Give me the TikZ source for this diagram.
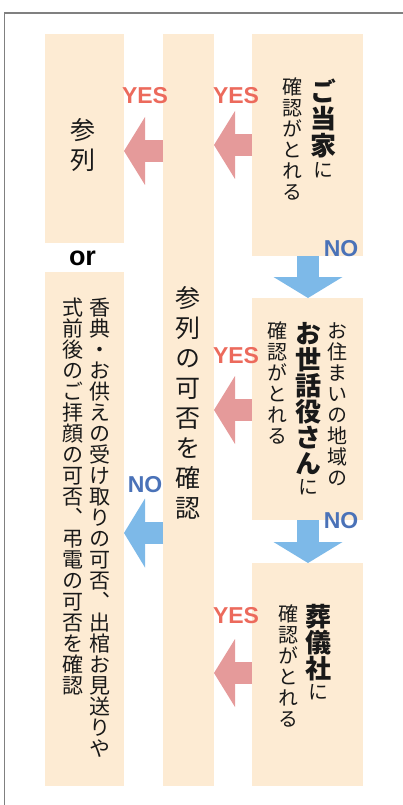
\documentclass[tikz,border=0pt]{standalone}
\usepackage{fontspec}
\setmainfont{Liberation Sans}
\newfontfamily\jp[RawFeature=+vert]{Noto Sans CJK JP}
\usetikzlibrary{positioning, arrows.meta}
\definecolor{boxfill}{HTML}{FDEBD3}
\definecolor{yesfill}{HTML}{E59A9A}
\definecolor{yestext}{HTML}{EC6A5C}
\definecolor{nofill}{HTML}{7DB9E8}
\definecolor{notext}{HTML}{4A72B8}
\tikzset{panel/.style={fill=boxfill, draw=none, inner sep=0, outer sep=0, minimum width=111, minimum height=222}}
\tikzset{yesarr/.style={draw=yesfill, line width=22pt, -{Triangle[width=68pt, length=21pt, line width=0pt]}}}
\tikzset{noarr/.style={draw=nofill, line width=22pt, -{Triangle[width=69pt, length=21pt, line width=0pt]}}}
\tikzset{yeslbl/.style={text=yestext, font=\bfseries\fontsize{23}{23}\selectfont, inner sep=0, outer sep=0}}
\tikzset{nolbl/.style={text=notext, font=\bfseries\fontsize{23}{23}\selectfont, inner sep=0, outer sep=0}}
\tikzset{tatecol/.style={inner sep=0, outer sep=0, anchor=north, text=black!90}}
% vertical text: one character per cell
\newlength\tatestep
\def\tateend{TATEEND}
\newcommand\tate[2]{\setlength\tatestep{#1}\tateloop#2\tateend}
\def\tateloop#1{\ifx#1\tateend\else
  \hbox to 0pt{\hss\vbox to\tatestep{\vss\hbox{\vrule height .88em depth .12em width 0pt#1}\vss}\hss}%
  \expandafter\tateloop\fi}
\newcommand\jpbold{\jp\bfseries\fontsize{26}{26}\selectfont}
\newcommand\jpmid{\jp\mdseries\fontsize{25}{25}\selectfont}
\newcommand\jpsmall{\jp\mdseries\fontsize{20}{20}\selectfont}
\newcommand\jpnote{\jp\mdseries\fontsize{21}{21}\selectfont}

\begin{document}
\begin{tikzpicture}[x=1pt, y=-1pt]
	\useasboundingbox (0,0) rectangle (403,805);
	\draw[gray, line width=1.5pt] (4.7,805) |- (403,12.8);
	%
	\node[panel, minimum width=79, minimum height=209, anchor=north west] (P) at (45,34) {};
	\node[panel, minimum width=79, minimum height=514, below=29pt of P] (Q) {};
	\node[panel, minimum width=51, minimum height=752, anchor=north west] (K) at (163,34) {};
	\node[panel, anchor=north west] (A) at (252,34) {};
	\node[panel, below=42pt of A] (B) {};
	\node[panel, minimum height=223, below=43pt of B] (C) {};
	\node[font=\bfseries\fontsize{27}{27}\selectfont, inner sep=0, below=8pt of P, xshift=-2pt] (or) {or};
	%
	\node[tatecol, anchor=center] (P1) at (83,145) {\vbox{\offinterlineskip\jpmid\tate{30pt}{参列}}};
	\node[tatecol] (K1) at (188,283) {\vbox{\offinterlineskip\jpmid\tate{30pt}{参列の可否を確認}}};
	\node[tatecol] (A1) at (323,78) {\vbox{\offinterlineskip\jpbold\tate{27pt}{ご当家}\jpsmall\tate{21pt}{に}}};
	\node[tatecol] (A2) at (292,76.5) {\vbox{\offinterlineskip\jpsmall\tate{21pt}{確認がとれる}}};
	\node[tatecol] (B1) at (337,320.5) {\vbox{\offinterlineskip\jpsmall\tate{21pt}{お住まいの地域の}}};
	\node[tatecol] (B2) at (308,320.5) {\vbox{\offinterlineskip\jpbold\tate{26pt}{お世話役さん}\jpsmall\tate{21pt}{に}}};
	\node[tatecol] (B3) at (277,320.5) {\vbox{\offinterlineskip\jpsmall\tate{21pt}{確認がとれる}}};
	\node[tatecol] (C1) at (318,603.5) {\vbox{\offinterlineskip\jpbold\tate{26pt}{葬儀社}\jpsmall\tate{21pt}{に}}};
	\node[tatecol] (C2) at (288,603.5) {\vbox{\offinterlineskip\jpsmall\tate{21pt}{確認がとれる}}};
	\node[tatecol] (Q1) at (100,297) {\vbox{\offinterlineskip\jpnote\tate{21pt}{香典・お供えの受け取りの可否、出棺お見送りや}}};
	\node[tatecol] (Q2) at (73,297) {\vbox{\offinterlineskip\jpnote\tate{21pt}{式前後のご拝顔の可否、弔電の可否を確認}}};
	%
	\draw[yesarr] (K.west |- 0,151) --
		node[pos=0.46, yeslbl, above=47.5pt] (y1) {YES} (P.east |- 0,151);
	\draw[yesarr] (A.west |- 0,145) --
		node[pos=0.42, yeslbl, above=41.5pt] (y2) {YES} (K.east |- 0,145);
	\draw[yesarr] (B.west |- 0,410) --
		node[pos=0.42, yeslbl, above=46.7pt] (y3) {YES} (K.east |- 0,410);
	\draw[yesarr] (C.west |- 0,673) --
		node[pos=0.42, yeslbl, above=49pt] (y4) {YES} (K.east |- 0,673);
	\draw[noarr] (K.west |- 0,533) --
		node[pos=0.46, nolbl, above=40pt] (n3) {NO} (Q.east |- 0,533);
	\draw[noarr] (A.south -| 308,0) -- (B.north -| 308,0);
	\draw[noarr] (B.south -| 308,0) -- (C.north -| 308,0);
	\node[nolbl] (n1) at (341,249) {NO};
	\node[nolbl] (n2) at (341,521) {NO};
\end{tikzpicture}
\end{document}
